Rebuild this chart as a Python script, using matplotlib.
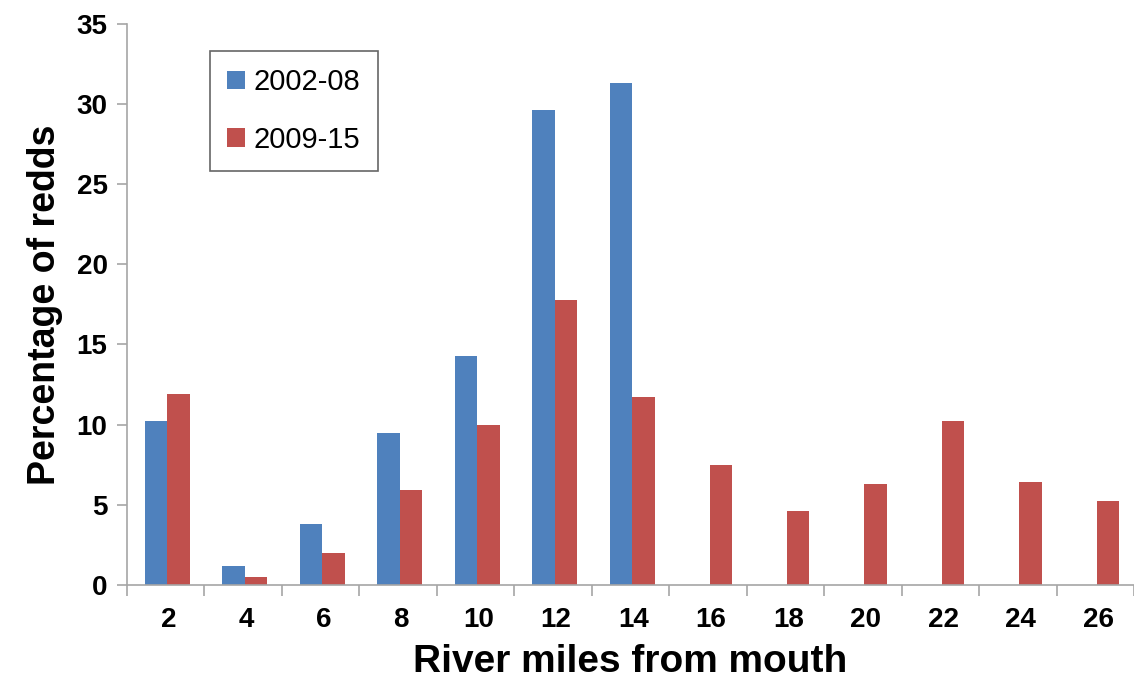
import matplotlib.pyplot as plt
import numpy as np

# River mile categories and percentage of redds per period
miles = [2, 4, 6, 8, 10, 12, 14, 16, 18, 20, 22, 24, 26]
pct_2002_08 = [10.2, 1.2, 3.8, 9.5, 14.3, 29.6, 31.3, 0, 0, 0, 0, 0, 0]
pct_2009_15 = [11.9, 0.5, 2.0, 5.9, 10.0, 17.8, 11.7, 7.5, 4.6, 6.3, 10.2, 6.4, 5.2]
series_labels = ["2002-08", "2009-15"]

plt.rcParams['font.family'] = ['Liberation Sans', 'DejaVu Sans']

fig = plt.figure(figsize=(11.34, 6.84), dpi=100)
ax = fig.add_axes([0.112, 0.145, 0.888, 0.82])

x = np.arange(len(miles))
w = 0.29
ax.bar(x - w / 2 + 0.02, pct_2002_08, w, color='#4F81BD', label=series_labels[0])
ax.bar(x + w / 2 + 0.02, pct_2009_15, w, color='#C0504D', label=series_labels[1])

ax.set_xlim(-0.5, len(miles) - 0.5)
ax.set_ylim(0, 35)

# spines
for s in ['top', 'right']:
    ax.spines[s].set_visible(False)
for s in ['left', 'bottom']:
    ax.spines[s].set_color('#A6A6A6')
    ax.spines[s].set_linewidth(1.2)

# y ticks
ax.set_yticks(range(0, 36, 5))
ax.tick_params(axis='y', direction='out', length=7, width=1.2, color='#A6A6A6',
               labelsize=20, pad=7)

# x ticks: marks at category boundaries, labels at centres
ax.set_xticks(np.arange(-0.5, len(miles), 1.0))
ax.set_xticklabels([])
ax.set_xticks(x + 0.04, minor=True)
ax.set_xticklabels([str(m) for m in miles], minor=True)
ax.tick_params(axis='x', which='major', direction='out', length=8, width=1.2,
               color='#A6A6A6')
ax.tick_params(axis='x', which='minor', length=0, labelsize=20, pad=16)

for lbl in ax.get_yticklabels() + ax.get_xticklabels(minor=True):
    lbl.set_fontweight('bold')

ax.set_ylabel('Percentage of redds', fontsize=27, fontweight='bold', labelpad=10)
ax.set_xlabel('River miles from mouth', fontsize=28, fontweight='bold', labelpad=8)

leg = ax.legend(loc='upper left', bbox_to_anchor=(0.082, 0.952), borderaxespad=0,
                fontsize=21, frameon=True, fancybox=False, edgecolor='#404040',
                handlelength=0.6, handleheight=0.6, handletextpad=0.3,
                labelspacing=1.0, borderpad=0.6)
leg.get_frame().set_linewidth(1.2)

plt.savefig('out.png', dpi=100, facecolor='white')
